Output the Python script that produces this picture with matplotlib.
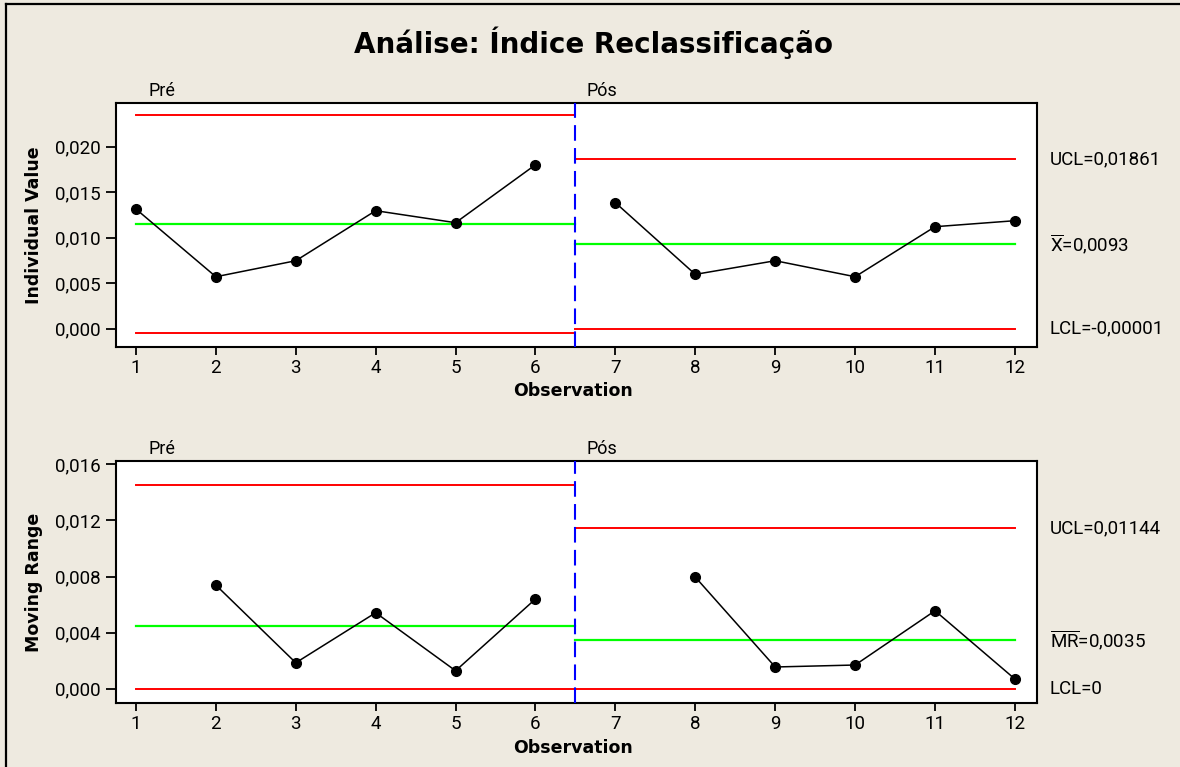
import numpy as np
import matplotlib
matplotlib.use("Agg")
import matplotlib.pyplot as plt
import matplotlib.transforms as mtransforms
from matplotlib.lines import Line2D

# ---------------- data ----------------
observations = list(range(1, 13))
stage_names = ["Pré", "Pós"]
stage_bounds = [(1, 6), (7, 12)]
individual_values = [0.01315, 0.00571, 0.00747, 0.01297, 0.01165, 0.01802,
                     0.01385, 0.00597, 0.00747, 0.00571, 0.01121, 0.01187]
moving_range = [np.nan, 0.00739, 0.00185, 0.00542, 0.00128, 0.00640,
                np.nan, 0.00796, 0.00155, 0.00169, 0.00556, 0.00069]
# control limits per stage: (UCL, CL, LCL)
ind_limits = [(0.02352, 0.01150, -0.00047), (0.01861, 0.00930, -0.00001)]
mr_limits = [(0.01454, 0.00445, 0.0), (0.01144, 0.00350, 0.0)]
ind_labels = ["UCL=0,01861", r"$\overline{\mathrm{X}}$=0,0093", "LCL=-0,00001"]
mr_labels = ["UCL=0,01144", r"$\overline{\mathrm{MR}}$=0,0035", "LCL=0"]
ind_ticks = [0.0, 0.005, 0.010, 0.015, 0.020]
mr_ticks = [0.0, 0.004, 0.008, 0.012, 0.016]
title = "Análise: Índice Reclassificação"

# ---------------- style ----------------
W, H = 1180, 767
BG = "#EEEAE0"
TICKFONT = ["Roboto", "DejaVu Sans"]
plt.rcParams["mathtext.fontset"] = "custom"
plt.rcParams["mathtext.rm"] = "Roboto"

fig = plt.figure(figsize=(W / 100, H / 100), dpi=100, facecolor=BG)

def fax(l, t, r, b):
    return fig.add_axes([l / W, 1 - b / H, (r - l) / W, (b - t) / H])

ax1 = fax(115.6, 102.7, 1037.3, 346.7)
ax2 = fax(115.6, 461.0, 1037.3, 703.3)

def fmt(v, dec):
    return f"{v:.{dec}f}".replace(".", ",")

def draw(ax, values, limits, labels, ticks, ylim, ylabel, ycenter_px, xlabel_px):
    ax.set_facecolor("white")
    split = (stage_bounds[0][1] + stage_bounds[1][0]) / 2
    starts = [stage_bounds[0][0], split]
    ends = [split, stage_bounds[1][1]]
    for i, (ucl, cl, lcl) in enumerate(limits):
        ax.plot([starts[i], ends[i]], [ucl, ucl], color="#FF0000", lw=1.4, zorder=2)
        ax.plot([starts[i], ends[i]], [lcl, lcl], color="#FF0000", lw=1.4, zorder=2)
        ax.plot([starts[i], ends[i]], [cl, cl], color="#00FF00", lw=1.6, zorder=2)
    ax.axvline(split, color="#0000FF", lw=1.5, linestyle=(0, (7.5, 3.5)), zorder=3)
    for (a, b) in stage_bounds:
        xs = observations[a - 1:b]
        ys = values[a - 1:b]
        ax.plot(xs, ys, color="black", lw=1.1, marker="o", ms=7, zorder=4)
    ax.set_xlim(0.745, 12.28)
    ax.set_ylim(*ylim)
    ax.set_xticks(observations)
    ax.set_xticklabels([str(o) for o in observations])
    ax.set_yticks(ticks)
    ax.set_yticklabels([fmt(t, 3) for t in ticks])
    for lab in ax.get_xticklabels() + ax.get_yticklabels():
        lab.set_fontfamily(TICKFONT)
        lab.set_fontsize(13.5)
    ax.tick_params(axis="y", length=7.5, width=1.3, pad=3.0, direction="out")
    ax.tick_params(axis="x", length=5.5, width=1.3, pad=3.0, direction="out")
    for s in ax.spines.values():
        s.set_linewidth(1.5)
        s.set_color("black")
    # stage labels
    trans = mtransforms.blended_transform_factory(ax.transData, ax.transAxes)
    ax.text(1.16, 1.012, stage_names[0], transform=trans, ha="left", va="bottom",
            fontsize=13, fontfamily=TICKFONT)
    ax.text(6.64, 1.012, stage_names[1], transform=trans, ha="left", va="bottom",
            fontsize=13, fontfamily=TICKFONT)
    # right labels
    trans2 = mtransforms.blended_transform_factory(ax.transAxes, ax.transData)
    ucl, cl, lcl = limits[1]
    for val, lab in zip((ucl, cl, lcl), labels):
        ax.text(1.0135, val, lab, transform=trans2, ha="left", va="center",
                fontsize=13.5, fontfamily=TICKFONT)
    fig.text(34 / W, 1 - ycenter_px / H, ylabel, rotation=90, ha="center", va="center",
             fontsize=12.5, fontweight="bold", fontfamily="DejaVu Sans")
    fig.text(573 / W, 1 - xlabel_px / H, "Observation", ha="center", va="center",
             fontsize=12.5, fontweight="bold", fontfamily="DejaVu Sans")

draw(ax1, individual_values, ind_limits, ind_labels, ind_ticks,
     (-0.00198, 0.02484), "Individual Value", 224.7, 391)
draw(ax2, moving_range, mr_limits, mr_labels, mr_ticks,
     (-0.00104, 0.01624), "Moving Range", 582, 748)

fig.text(593 / W, 1 - 43 / H, title, ha="center", va="center",
         fontsize=20, fontweight="bold", fontfamily="DejaVu Sans")

# figure frame (top and left)
fig.add_artist(Line2D([6 / W, 1], [1 - 4 / H, 1 - 4 / H], transform=fig.transFigure,
                      color="black", lw=1.6))
fig.add_artist(Line2D([6 / W, 6 / W], [0, 1 - 4 / H], transform=fig.transFigure,
                      color="black", lw=1.6))

fig.savefig("out.png", dpi=100, facecolor=BG)
